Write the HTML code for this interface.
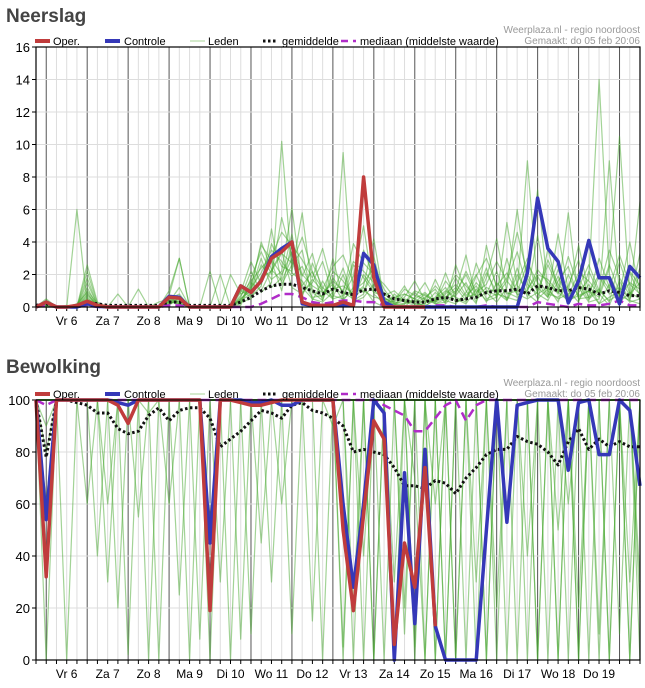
<!DOCTYPE html>
<html><head><meta charset="utf-8"><style>
body{margin:0;background:#fff;font-family:"Liberation Sans",sans-serif}
svg{display:block}
</style></head><body>
<svg id="s" width="645" height="688"></svg>
<script>
const N = 60;
const dayLabels = ["Vr 6","Za 7","Zo 8","Ma 9","Di 10","Wo 11","Do 12","Vr 13","Za 14","Zo 15","Ma 16","Di 17","Wo 18","Do 19"];
const rainTicks = [0,2,4,6,8,10,12,14,16];
const cloudTicks = [0,20,40,60,80,100];
const rainOper = [0,0.3,0,0,0.1,0.35,0.1,0,0,0,0,0,0,0.6,0.55,0,0,0,0,0,1.3,0.9,1.6,3.0,3.4,4.0,0.3,0.1,0.1,0.1,0.3,0.1,8.0,1.8,0,0,0,0,0];
const rainCtrl = [0,0.3,0,0,0,0.2,0.05,0,0,0,0,0,0,0.65,0.6,0,0,0,0,0,1.3,0.9,1.6,3.1,3.6,4.0,0.2,0.1,0.1,0.1,0.1,0.1,3.3,2.6,0.3,0,0,0,0,0,0,0,0,0,0,0,0,0,2.1,6.7,3.6,2.8,0.25,1.6,4.1,1.8,1.8,0.2,2.5,1.8];
const rainMean = [0.1,0.2,0,0,0.1,0.3,0.2,0.1,0.1,0.1,0.1,0.1,0.1,0.3,0.3,0.1,0.1,0.1,0.1,0.1,0.3,0.6,1.0,1.3,1.4,1.4,1.2,1.0,0.8,1.1,0.9,0.75,1.05,1.1,0.8,0.5,0.4,0.3,0.3,0.5,0.6,0.4,0.5,0.6,0.9,1.0,1.0,1.1,0.8,1.3,1.2,1.0,1.0,1.2,1.1,0.8,1.0,0.9,0.7,0.7];
const rainMedian = [0,0.1,0,0,0,0.1,0,0,0,0,0,0,0,0.1,0.1,0,0,0,0,0,0,0,0.2,0.5,0.8,0.8,0.6,0.3,0.2,0.3,0.4,0.4,0.3,0.3,0.1,0,0,0,0,0.1,0.1,0,0,0,0.1,0,0,0,0,0.3,0.2,0.1,0,0.2,0.1,0.1,0.2,0.4,0.1,0.1];
const rainMembers = [
[0,0.2,0,0,0.1,0.5,0.2,0,0,0,0,0,0.3,0.5,0.3,0,0,0,0,0,0.5,1.2,2.1,3.5,2.8,1.9,2.5,1.0,0.6,1.8,0.9,0.5,2.0,1.1,0.3,0,0.2,0.4,0,0.6,1.2,0.3,0.5,1.5,0.8,2.2,0.4,1.5,3.0,0.8,1.2,0.3,2.0,0.6,1.0,0.2,1.4,0.3,0.9,0.5],
[0,0.5,0,0.1,0,2.6,0.3,0,0,0,0,0,0,1.0,3.0,0,0,0,0,0,0.2,1.8,3.4,2.0,5.5,3.1,1.2,0.5,0.3,0.9,2.4,0.4,0.8,3.1,0.6,0.2,0.1,0,0.5,0.2,0.3,2.6,1.0,0.2,3.8,1.1,0.5,2.4,0.6,1.9,0.7,4.5,1.0,0.3,2.2,0.8,0.1,1.6,0.4,0.2],
[0.1,0,0,0,0,1.2,0,0,0,0,1.1,0,0,0.3,0.2,0,0,0,2.0,0,1.0,0.6,1.3,4.8,1.4,2.6,3.5,0.4,1.6,0.5,0.7,1.9,5.0,0.8,0.2,0.4,1.3,0.2,0.1,0.4,2.1,0.5,0.2,1.1,0.4,0.6,5.2,1.3,0.8,0.3,3.6,0.9,0.4,1.8,0.6,1.1,0.3,2.8,0.8,1.5],
[0,0.1,0,0,0,0.8,0.1,0,0,0,0,0,0,0.2,0.4,0,0,0,0,0,0.4,0.8,2.6,1.7,2.2,6.1,1.3,2.2,0.4,3.0,0.5,1.0,1.5,2.4,1.1,0.2,0,0.6,1.5,0.3,0.6,1.0,3.2,0.5,0.9,0.3,1.2,6.0,1.4,0.8,0.4,1.6,2.5,0.5,0.6,3.0,1.2,0.4,2.1,0.7],
[0,0,0,0,6.0,0.2,0,0,0,0,0,0,0,0.1,0.6,0,0,2.2,0,0,0.1,1.5,1.0,2.3,3.4,1.2,0.8,1.7,1.0,0.5,9.5,0.5,1.2,0.3,0,0.8,0.3,0.1,0.2,1.7,0.4,0.2,0.9,2.0,0.5,0.8,0.6,0.4,2.2,7.2,1.0,0.5,0.8,1.2,0.3,0.5,9.0,0.7,0.4,3.3],
[0,0.3,0,0,0,0.4,0,0,0,0,0,0,0,0.7,3.0,0,0,0,0,0,0.6,2.2,0.9,1.5,10.2,2.1,1.6,0.6,0.7,1.1,1.3,0.8,3.5,1.8,0.6,0.1,0.5,0.3,0.8,0.2,0.5,0.7,1.5,0.3,1.8,4.2,0.9,0.6,1.0,2.3,1.5,0.8,5.8,0.4,1.4,0.2,0.6,1.0,0.3,0.5],
[0,0,0,0,0,0.6,0,0,0,0,0,0,0,0.4,0.2,0,0,0,0,0,0.3,0.5,1.9,2.8,1.0,4.0,2.0,1.3,0.9,1.4,0.4,1.2,1.0,0.6,0.5,0.3,0.2,0.9,0.3,0.5,1.0,0.6,0.3,2.7,1.0,0.7,1.6,0.8,0.5,0.9,2.6,1.2,0.3,0.9,1.7,14.0,2.0,0.6,1.5,1.1],
[0,0.2,0,0,0,1.8,0.1,0,0,0,0,0,0,0.5,0.8,0,0,0,0,2.0,0.8,1.1,4.0,2.3,1.6,3.0,0.6,2.7,1.2,0.6,2.0,0.3,0.6,1.4,0.2,0.1,0.8,0.5,0.2,0.9,0.3,1.8,0.7,1.3,0.3,1.5,0.8,1.0,9.0,1.2,0.6,1.9,0.4,0.7,1.0,0.6,2.4,10.5,0.6,6.5],
[0,0.4,0,0,0.2,0.9,0,0,0.8,0,0,0,0,0.3,1.2,0,0,0,0,0,0.9,2.8,1.4,3.9,2.5,2.2,5.8,0.9,0.4,2.2,1.6,0.7,1.3,4.2,0.4,0.2,0.6,1.6,0.4,0.3,0.8,1.4,0.6,0.8,2.4,0.5,3.0,0.7,1.8,0.5,1.1,2.8,0.6,1.5,0.4,1.9,0.8,1.2,0.5,2.0],
[0,0.1,0,0,0,2.2,0.2,0,0,0,0,0,0,0.2,0.5,0,0,0,0,0,0.5,1.0,3.0,1.2,1.8,4.5,0.9,1.5,2.8,0.7,0.5,2.6,1.8,0.9,0.7,1.0,0.4,0.2,0.6,1.1,0.2,0.9,2.0,0.6,1.2,0.9,0.4,2.0,0.9,4.4,0.8,0.6,1.3,2.9,0.5,1.0,0.4,0.8,4.0,0.9],
[0,0.2,0,0,0,1.5,0.1,0,0,0,0,0,0,0.4,0.3,0,0,0,0,0,0.7,1.6,2.4,3.1,4.6,3.8,2.9,1.8,3.6,1.2,0.8,3.9,2.7,2.0,1.4,0.6,0.8,0.5,0.9,0.3,1.6,0.8,2.2,0.9,1.4,2.8,1.6,3.4,1.1,2.0,1.7,0.9,3.1,1.2,2.6,1.0,3.5,1.8,0.7,2.4],
[0,0.3,0,0,0,1.0,0.2,0,0,0,0,0,0,0.6,0.2,0,0,0,0,0,1.1,0.7,1.8,2.2,3.3,2.7,4.3,2.1,1.1,2.5,3.2,1.5,0.9,2.2,0.8,0.3,1.1,0.7,0.5,1.3,0.6,1.2,0.4,1.9,3.0,1.3,2.1,0.9,2.7,1.5,0.6,2.3,1.0,3.8,0.9,2.0,1.1,3.2,1.4,0.8],
[0,0.1,0,0,0,0.7,0.1,0,0,0,0,0,0,0.3,0.6,0,0,0,0,0,0.4,1.3,3.8,2.9,2.0,3.4,1.9,3.3,0.8,1.6,1.0,2.8,2.2,1.5,0.4,0.6,0.3,1.0,0.7,0.4,0.9,2.0,1.3,0.6,2.1,0.9,1.8,4.6,2.0,1.0,2.9,1.4,0.7,2.1,1.6,0.8,2.6,0.9,2.2,1.3]
];
const cloudOper = [100,32,100,100,100,100,100,100,98,91,100,100,100,100,100,100,100,19,100,100,99,98,98,99,100,100,100,100,100,100,50,19,56,92,85,6,45,28,74,13];
const cloudCtrl = [100,54,100,100,100,100,100,100,99,98,100,100,100,100,100,100,100,45,100,100,100,99,99,100,98,98,100,100,100,100,60,28,60,100,95,0,72,14,81,13,0,0,0,0,50,100,53,98,99,100,100,100,73,99,100,79,79,100,96,67];
const cloudMean = [100,78,100,100,99,98,95,95,89,87,88,94,97,92,96,97,97,93,82,85,88,92,96,95,93,98,99,96,95,93,90,80,81,80,79,74,67,67,66,69,68,64,70,74,79,81,81,86,84,83,80,75,84,89,81,85,82,84,82,82];
const cloudMedian = [100,98,100,100,100,100,100,100,100,100,100,100,100,100,100,100,100,100,100,100,100,100,100,100,100,100,100,100,100,100,100,100,100,100,98,96,94,88,88,93,98,100,92,98,100,100,100,100,100,100,100,100,100,100,100,100,100,100,100,100];
const cloudMembers = [
[100,90,100,100,100,100,100,60,100,100,100,95,100,100,100,100,100,100,30,100,100,100,100,100,100,100,100,100,100,100,100,100,40,100,100,100,20,100,100,100,100,100,100,100,100,20,100,100,100,100,100,100,60,100,100,100,100,10,100,100],
[100,0,100,100,100,100,40,100,100,2,100,100,100,100,25,100,100,100,100,0,100,100,100,100,60,100,100,100,100,100,100,0,100,100,100,100,100,70,0,100,100,100,100,0,100,100,100,100,0,100,100,100,100,100,0,100,100,100,100,20],
[100,100,100,100,100,100,100,100,20,100,100,100,100,100,100,100,8,100,100,100,100,10,100,100,100,100,100,100,100,90,100,100,100,100,0,100,100,100,100,100,0,100,100,100,100,100,100,0,100,100,100,50,100,100,100,100,0,100,100,100],
[100,80,100,100,100,100,100,100,100,100,55,100,100,100,100,100,100,0,100,100,100,100,100,30,100,100,100,100,100,100,100,100,100,0,100,100,100,100,100,60,100,100,0,100,100,100,100,100,100,100,0,100,100,100,100,100,100,100,0,100],
[100,100,100,100,100,100,100,100,100,100,100,100,100,100,100,0,100,100,100,100,100,100,100,100,100,100,100,15,100,100,100,100,100,100,100,100,100,0,100,100,100,100,100,100,0,100,100,100,100,100,100,100,100,0,100,100,100,100,100,0],
[100,100,100,100,100,60,100,100,100,100,100,100,0,100,100,100,100,100,100,100,100,100,100,100,100,10,100,100,100,100,0,100,100,100,100,100,100,100,100,0,100,100,100,100,100,100,0,100,100,100,100,100,100,100,100,10,100,100,100,100],
[100,100,100,100,100,100,100,100,100,100,100,100,100,100,100,100,100,100,100,100,100,100,100,100,100,100,100,100,100,100,100,100,100,100,100,30,100,100,100,100,100,100,100,100,100,100,100,100,100,0,100,100,100,100,100,100,100,100,100,100],
[100,100,100,0,100,100,100,100,100,100,100,100,100,100,100,100,100,100,100,100,100,100,100,100,100,100,100,100,0,100,100,100,100,100,100,100,100,100,100,100,100,100,100,100,100,100,100,100,100,100,100,100,100,100,100,100,100,100,100,100],
[100,60,100,100,100,100,100,100,100,100,100,0,100,100,100,100,100,100,100,100,8,100,100,100,100,100,100,100,100,100,100,100,100,100,100,100,100,100,100,100,100,0,100,100,100,100,100,100,100,100,100,100,100,100,100,100,100,100,100,100],
[100,100,100,100,100,100,100,100,100,100,100,100,100,100,100,100,100,100,100,100,100,100,100,100,100,100,100,100,100,100,100,20,100,100,100,100,100,100,100,0,100,100,100,100,100,100,100,100,40,100,100,100,100,0,100,100,100,100,100,30],
[100,100,100,100,100,100,100,100,100,100,100,100,100,100,100,100,100,100,100,100,100,100,100,100,100,100,100,100,100,100,100,100,100,0,100,100,100,100,100,100,100,100,100,100,100,0,100,100,100,100,100,0,100,100,100,100,100,100,30,100],
[100,100,100,100,100,100,100,100,100,100,100,100,100,100,100,100,100,100,100,100,100,100,100,100,100,100,100,100,100,100,100,100,0,100,100,100,100,100,0,100,100,100,100,100,0,100,100,100,100,100,100,100,0,100,100,100,100,100,100,100],
[100,100,100,100,100,100,100,100,100,100,100,100,100,100,100,100,100,100,100,100,100,100,100,100,100,100,100,100,100,100,5,100,100,100,100,100,100,100,100,100,100,0,100,100,100,100,100,100,100,100,100,100,100,100,100,100,0,100,100,100],
[100,100,100,100,100,100,100,100,100,100,100,100,100,100,100,100,100,100,100,100,100,100,100,100,100,100,100,100,100,100,100,100,100,100,100,0,100,100,100,100,100,100,100,100,100,100,100,100,100,100,100,100,100,100,100,0,100,100,100,100],
[100,100,100,100,100,100,100,100,100,100,100,100,100,100,100,100,100,100,100,100,100,100,100,100,100,100,100,100,100,100,100,100,100,100,100,100,100,100,100,100,0,100,100,100,100,100,100,100,100,0,100,100,100,100,100,100,100,100,0,100],
[100,100,100,100,100,100,100,30,100,100,100,100,100,60,100,100,100,100,100,100,100,100,45,100,100,100,100,100,100,100,100,100,100,100,100,100,10,100,100,100,100,100,100,30,100,100,100,100,100,100,100,100,100,20,100,100,100,100,100,100],
[100,100,100,100,100,100,100,100,100,100,100,100,100,100,100,100,100,100,100,100,100,100,100,100,100,100,100,100,100,100,100,100,100,100,100,100,100,100,100,100,100,100,100,100,100,100,100,100,100,100,100,100,100,100,100,100,100,100,100,100],
[100,100,100,100,100,100,100,100,100,100,100,100,100,100,100,100,100,100,100,100,100,100,100,100,100,100,100,100,100,100,100,100,100,100,100,100,100,5,100,100,100,100,100,100,100,100,100,100,100,100,100,100,100,100,100,100,100,100,100,100],
[100,100,100,100,100,100,100,100,100,100,100,100,100,100,100,100,100,100,100,100,100,100,100,100,100,100,100,100,100,100,100,100,100,100,100,100,100,100,100,100,100,100,100,100,100,100,100,100,100,100,100,100,100,100,100,100,100,100,100,100],
[100,100,100,100,100,100,100,100,100,100,100,100,100,100,100,100,100,100,100,100,100,100,100,100,100,100,100,100,100,100,100,100,100,100,100,100,100,100,100,100,100,100,100,100,100,100,100,100,100,100,100,0,100,100,100,100,100,100,100,100]
];

const svg = document.getElementById('s');
const NS = 'http://www.w3.org/2000/svg';
function mk(tag, attrs, parent){const e=document.createElementNS(NS,tag);for(const k in attrs)e.setAttribute(k,attrs[k]);(parent||svg).appendChild(e);return e;}
const X0=36, X1=640, STEP=(X1-X0)/59;
function xs(i){return X0+i*STEP;}

function drawChart(cfg){
  const g = mk('g',{});
  
  
  const ys = v => cfg.yb - v/cfg.max*(cfg.yb-cfg.yt);
  const t = mk('text',{x:6,y:cfg.titleY,'font-size':19,'font-weight':'bold',fill:'#444'},g);
  t.textContent = cfg.title;
  
  
  for(let i=0;i<N;i++){
    const x=xs(i);
    const midnight=(i%4)===1;
    const l=mk('line',{x1:x,x2:x,y1:cfg.yt,y2:cfg.yb,stroke:midnight?'#555':'#ddd','stroke-width':1},g);
    
    
    mk('line',{x1:x,x2:x,y1:cfg.yb,y2:cfg.yb+4,stroke:'#000'},g);
  }
  cfg.ticks.forEach(v=>{
    const y=ys(v);
    const l=mk('line',{x1:X0,x2:X1,y1:y,y2:y,stroke:'#ddd'},g);
    
    
    mk('line',{x1:X0-4,x2:X0,y1:y,y2:y,stroke:'#000'},g);
    const tx=mk('text',{x:X0-6,y:y+5,'font-size':13,'text-anchor':'end',fill:'#000'},g);
    tx.textContent=v;
    
    
  });
  dayLabels.forEach((d,k)=>{
    const x=xs(1+k*4)+2*STEP;
    const tx=mk('text',{x:x,y:cfg.yb+18,'font-size':12,'text-anchor':'middle',fill:'#000'},g);
    tx.textContent=d;
    
    
  });
  const line=(arr,attrs,name)=>{
    const p=arr.map((v,i)=>(i?'L':'M')+xs(i).toFixed(1)+' '+ys(v).toFixed(1)).join(' ');
    const e=mk('path',Object.assign({d:p,fill:'none','stroke-linejoin':'round'},attrs),g);
    
    
    return e;
  };
  cfg.members.forEach(m=>line(m,{stroke:'#45a82d','stroke-opacity':0.5,'stroke-width':1.2},'member-line'));
  line(cfg.mean,{stroke:'#111','stroke-width':3,'stroke-dasharray':'2.5 2.5'},'mean-line');
  line(cfg.median,{stroke:'#b02cc8','stroke-width':2.5,'stroke-dasharray':'9 5'},'median-line');
  line(cfg.ctrl,{stroke:'#3538b8','stroke-width':3.5},'control-line');
  line(cfg.oper,{stroke:'#c03c3c','stroke-width':3.5},'oper-line');
  mk('rect',{x:X0,y:cfg.yt,width:X1-X0,height:cfg.yb-cfg.yt,fill:'none',stroke:'#000','stroke-width':1.2},g);
  const ly=cfg.yt-6;
  const items=[
    {x:35,tx:53,t:'Oper.',st:{stroke:'#c03c3c','stroke-width':4}},
    {x:105,tx:124,t:'Controle',st:{stroke:'#3538b8','stroke-width':4}},
    {x:190,tx:208,t:'Leden',st:{stroke:'#a8d49a','stroke-width':1}},
    {x:263,tx:282,t:'gemiddelde',st:{stroke:'#111','stroke-width':3,'stroke-dasharray':'2.5 2.5'}},
    {x:341,tx:360,t:'mediaan (middelste waarde)',st:{stroke:'#b02cc8','stroke-width':2.5,'stroke-dasharray':'7 5'}}
  ];
  items.forEach(it=>{
    const lg=mk('g',{},g);
    
    
    mk('line',Object.assign({x1:it.x,x2:it.x+15,y1:ly,y2:ly},it.st),lg);
    const tx=mk('text',{x:it.tx,y:ly+4,'font-size':11,fill:'#000'},lg);
    tx.textContent=it.t;
  });
  const c1=mk('text',{x:640,y:cfg.yt-14,'font-size':10,'text-anchor':'end',fill:'#999'},g);
  c1.textContent='Weerplaza.nl - regio noordoost';
  
  
  const c2=mk('text',{x:640,y:cfg.yt-3,'font-size':10,'text-anchor':'end',fill:'#999'},g);
  c2.textContent='Gemaakt: do 05 feb 20:06';
  
  
}
drawChart({name:'neerslag-chart',title:'Neerslag',titleY:22,yt:47,yb:307,max:16,ticks:rainTicks,members:rainMembers,mean:rainMean,median:rainMedian,ctrl:rainCtrl,oper:rainOper});
drawChart({name:'bewolking-chart',title:'Bewolking',titleY:373,yt:400,yb:660,max:100,ticks:cloudTicks,members:cloudMembers,mean:cloudMean,median:cloudMedian,ctrl:cloudCtrl,oper:cloudOper});
</script>
</body></html>
